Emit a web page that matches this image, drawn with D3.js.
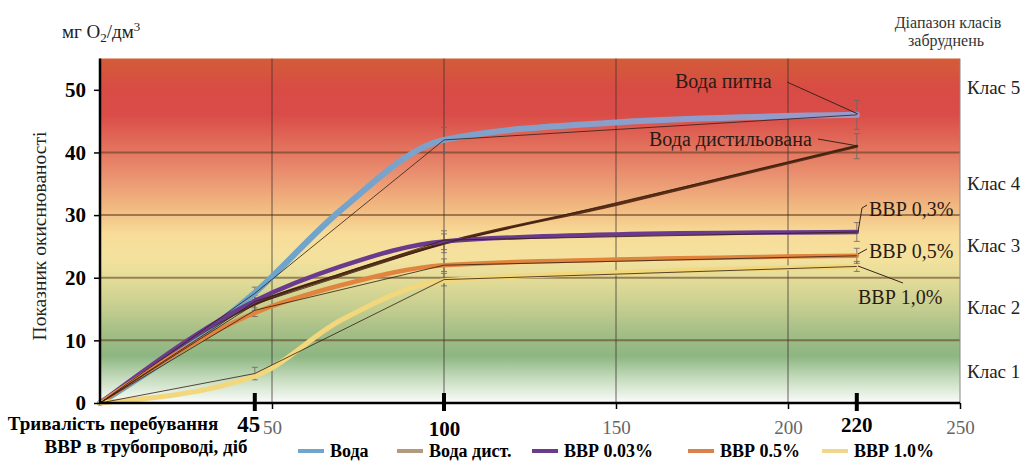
<!DOCTYPE html>
<html>
<head>
<meta charset="utf-8">
<script src="https://cdn.jsdelivr.net/npm/d3@7"></script>
<style>
  body { margin: 0; background: #fff; }
</style>
</head>
<body>
<div id="chart1"></div>
<script>
// measured points (thin lines, error bars)
var days = [0, 45, 100, 220];
var voda = [0, 17.5, 42, 46];
var vodaDist = [0, 15.8, 25.5, 41];
var vvr003 = [0, 16.2, 26, 27.3];
var vvr05 = [0, 14.8, 22, 23.5];
var vvr10 = [0, 4.7, 19.7, 21.8];
var errVoda = [0, 1, 2, 2.3];
var errDist = [0, 1, 1.5, 2];
var err003 = [0, 1, 1.5, 1.5];
var err05 = [0, 1, 1, 1.2];
var err10 = [0, 1, 1, 0.8];
// smoothed trend
var curveDays = [0, 45, 70, 100, 150, 220];
var vodaCurve = [0, 17.6, 30.8, 42, 44.8, 46];
var vodaDistCurve = [0, 15.8, 20.5, 25.5, 31.7, 41];
var vvr003Curve = [0, 16.3, 21.8, 25.8, 26.9, 27.3];
var vvr05Curve = [0, 14.4, 18.8, 22, 22.9, 23.5];
var vvr10Curve = [0, 4.3, 13.2, 19.5, 20.8, 21.8];
var seriesNames = ["Вода", "Вода дист.", "ВВР 0.03%", "ВВР 0.5%", "ВВР 1.0%"];
var yTicks = [0, 10, 20, 30, 40, 50];
var xTicks = [50, 100, 150, 200, 250];
var boldDays = [45, 100, 220];
var classNames = ["Клас 5", "Клас 4", "Клас 3", "Клас 2", "Клас 1"];
var classValues = [50.3, 35, 25, 15.2, 5];

var w = 1028;
var h = 461;
var serif = "'Liberation Serif', 'Times New Roman', serif";

var xScale = d3.scaleLinear()
    .domain([0, 250])
    .range([100, 960]);

var yScale = d3.scaleLinear()
    .domain([0, 55])
    .range([403, 58.5]);

var svg = d3.select("#chart1")
    .append("svg")
    .attr("width", w)
    .attr("height", h)
    .style("font-family", serif);

var defs = svg.append("defs");

// background bands of pollution classes
var bg = defs.append("linearGradient")
    .attr("id", "bgGrad")
    .attr("gradientUnits", "userSpaceOnUse")
    .attr("x1", 0).attr("x2", 0)
    .attr("y1", yScale(55)).attr("y2", yScale(0));
var bgStops = [[55, "#d35c38"], [50, "#d94b45"], [46, "#da4c48"], [41, "#e2705c"],
               [36, "#ea9472"], [31, "#f2bb82"], [27, "#f8dc98"], [23, "#f3e29e"],
               [19, "#dfda96"], [15, "#c3cd8f"], [11, "#a2bd86"], [7.5, "#8db682"],
               [4, "#c4dbbc"], [0, "#fbfcfa"]];
bgStops.forEach(function(s) {
  bg.append("stop")
    .attr("offset", (55 - s[0]) / 55)
    .attr("stop-color", s[1]);
});

var blueGrad = defs.append("linearGradient")
    .attr("id", "blueGrad")
    .attr("gradientUnits", "userSpaceOnUse")
    .attr("x1", xScale(0)).attr("x2", xScale(220))
    .attr("y1", 0).attr("y2", 0);
blueGrad.append("stop").attr("offset", 0).attr("stop-color", "#5ea7c8");
blueGrad.append("stop").attr("offset", 0.4).attr("stop-color", "#7aa3cc");
blueGrad.append("stop").attr("offset", 1).attr("stop-color", "#9a9acb");

svg.append("rect")
    .attr("x", xScale(0))
    .attr("y", yScale(55))
    .attr("width", xScale(250) - xScale(0))
    .attr("height", yScale(0) - yScale(55))
    .attr("fill", "url(#bgGrad)");

// grid
svg.selectAll(".hgrid")
    .data([10, 20, 30, 40])
    .enter()
    .append("line")
    .attr("x1", xScale(0))
    .attr("x2", xScale(250))
    .attr("y1", function(d) { return yScale(d); })
    .attr("y2", function(d) { return yScale(d); })
    .attr("stroke", "rgba(90,55,30,0.55)")
    .attr("stroke-width", 2);

svg.selectAll(".vgrid")
    .data([50, 100, 150, 200])
    .enter()
    .append("line")
    .attr("x1", function(d) { return xScale(d); })
    .attr("x2", function(d) { return xScale(d); })
    .attr("y1", yScale(55))
    .attr("y2", yScale(0))
    .attr("stroke", "rgba(60,50,50,0.75)")
    .attr("stroke-width", 1);

svg.append("line")
    .attr("x1", xScale(250)).attr("x2", xScale(250))
    .attr("y1", yScale(55)).attr("y2", yScale(0))
    .attr("stroke", "#888")
    .attr("stroke-width", 1);

// series
var series = [
  {vals: voda, curve: vodaCurve, err: errVoda, color: "url(#blueGrad)", width: 6},
  {vals: vodaDist, curve: vodaDistCurve, err: errDist, color: "#5a2d14", width: 3},
  {vals: vvr003, curve: vvr003Curve, err: err003, color: "#6b3a8c", width: 4.5},
  {vals: vvr05, curve: vvr05Curve, err: err05, color: "#e0843e", width: 4.5},
  {vals: vvr10, curve: vvr10Curve, err: err10, color: "#f2d77c", width: 5}
];

var smooth = d3.line()
    .x(function(d, i) { return xScale(curveDays[i]); })
    .y(function(d) { return yScale(d); })
    .curve(d3.curveMonotoneX);

var straight = d3.line()
    .x(function(d, i) { return xScale(days[i]); })
    .y(function(d) { return yScale(d); });

// error bars
series.forEach(function(s) {
  for (var i = 1; i < days.length; i++) {
    var cx = xScale(days[i]);
    var g = svg.append("g")
        .attr("stroke", "rgba(110,100,100,0.8)")
        .attr("stroke-width", 1);
    g.append("line")
        .attr("x1", cx).attr("x2", cx)
        .attr("y1", yScale(s.vals[i] - s.err[i]))
        .attr("y2", yScale(s.vals[i] + s.err[i]));
    g.append("line")
        .attr("x1", cx - 3).attr("x2", cx + 3)
        .attr("y1", yScale(s.vals[i] - s.err[i]))
        .attr("y2", yScale(s.vals[i] - s.err[i]));
    g.append("line")
        .attr("x1", cx - 3).attr("x2", cx + 3)
        .attr("y1", yScale(s.vals[i] + s.err[i]))
        .attr("y2", yScale(s.vals[i] + s.err[i]));
  }
});

series.forEach(function(s) {
  svg.append("path")
      .datum(s.curve)
      .attr("d", smooth)
      .attr("fill", "none")
      .attr("stroke", s.color)
      .attr("stroke-width", s.width)
      .attr("stroke-linecap", "round");
});

// thin lines through measured points
series.forEach(function(s) {
  svg.append("path")
      .datum(s.vals)
      .attr("d", straight)
      .attr("fill", "none")
      .attr("stroke", "rgba(50,30,20,0.8)")
      .attr("stroke-width", 1);
});

// axes
var yAxis = svg.append("g")
    .attr("transform", "translate(" + xScale(0) + ",0)")
    .call(d3.axisLeft(yScale).tickValues(yTicks).tickSize(6).tickPadding(8));
yAxis.select(".domain").remove();
yAxis.selectAll("line").attr("stroke", "#000").attr("stroke-width", 1.5);
yAxis.selectAll("text")
    .attr("font-size", 21)
    .attr("font-weight", "bold")
    .attr("fill", "#000");

var xAxis = svg.append("g")
    .attr("transform", "translate(0," + yScale(0) + ")")
    .call(d3.axisBottom(xScale).tickValues(xTicks).tickSize(6).tickPadding(12));
xAxis.select(".domain").remove();
xAxis.selectAll("line").attr("stroke", "#000").attr("stroke-width", 1.5);
xAxis.selectAll("text")
    .attr("font-size", function(d) { return d === 100 ? 21 : 19; })
    .attr("fill", function(d) { return d === 100 ? "#000" : "#666"; })
    .attr("font-weight", function(d) { return d === 100 ? "bold" : "normal"; });

svg.append("line")
    .attr("x1", xScale(0)).attr("x2", xScale(0))
    .attr("y1", yScale(55)).attr("y2", yScale(0))
    .attr("stroke", "#000").attr("stroke-width", 2.5);
svg.append("line")
    .attr("x1", xScale(0) - 1).attr("x2", xScale(250))
    .attr("y1", yScale(0)).attr("y2", yScale(0))
    .attr("stroke", "#000").attr("stroke-width", 2.5);

// bold marks for measurement days
svg.selectAll(".dayMark")
    .data(boldDays)
    .enter()
    .append("line")
    .attr("x1", function(d) { return xScale(d); })
    .attr("x2", function(d) { return xScale(d); })
    .attr("y1", yScale(0) - 10)
    .attr("y2", yScale(0) + 8)
    .attr("stroke", "#000")
    .attr("stroke-width", 4);

svg.selectAll(".dayLabel")
    .data([45, 220])
    .enter()
    .append("text")
    .attr("x", function(d) { return d === 45 ? xScale(d) - 6 : xScale(d); })
    .attr("y", 432)
    .attr("text-anchor", "middle")
    .attr("font-size", function(d) { return d === 45 ? 23 : 21; })
    .attr("font-weight", "bold")
    .text(function(d) { return d; });

// axis titles
svg.append("text")
    .attr("x", 113).attr("y", 430)
    .attr("text-anchor", "middle")
    .attr("font-size", 19).attr("font-weight", "bold")
    .text("Тривалість перебування");
svg.append("text")
    .attr("x", 146).attr("y", 453)
    .attr("text-anchor", "middle")
    .attr("font-size", 19).attr("font-weight", "bold")
    .text("ВВР в трубопроводі, діб");

svg.append("text")
    .attr("transform", "rotate(-90)")
    .attr("x", -236).attr("y", 46)
    .attr("text-anchor", "middle")
    .attr("font-size", 19.5)
    .attr("fill", "#222")
    .text("Показник окиснюваності");

var unit = svg.append("text")
    .attr("x", 62).attr("y", 38)
    .attr("font-size", 19)
    .attr("fill", "#222");
unit.append("tspan").text("мг О");
unit.append("tspan").attr("font-size", 13).attr("dy", 4).text("2");
unit.append("tspan").attr("dy", -4).text("/дм");
unit.append("tspan").attr("font-size", 13).attr("dy", -7).text("3");

// class labels on right
svg.append("text")
    .attr("x", 948).attr("y", 28)
    .attr("text-anchor", "middle")
    .attr("font-size", 16).attr("fill", "#333")
    .text("Діапазон класів");
svg.append("text")
    .attr("x", 946).attr("y", 46)
    .attr("text-anchor", "middle")
    .attr("font-size", 16).attr("fill", "#333")
    .text("забруднень");

svg.selectAll(".classLabel")
    .data(classNames)
    .enter()
    .append("text")
    .attr("x", 967)
    .attr("y", function(d, i) { return yScale(classValues[i]) + 6; })
    .attr("font-size", 19)
    .attr("fill", "#222")
    .text(function(d) { return d; });

// callouts at day 220
var callouts = [
  {text: "Вода питна", tx: 675, ty: 88, pts: [[787, 82], [858, 114]]},
  {text: "Вода дистильована", tx: 649, ty: 146, pts: [[818, 139], [858, 146]]},
  {text: "ВВР 0,3%", tx: 869, ty: 216, pts: [[858, 232], [862, 208], [867, 205]]},
  {text: "ВВР 0,5%", tx: 869, ty: 258, pts: [[858, 254], [867, 249]]},
  {text: "ВВР 1,0%", tx: 858, ty: 304, pts: [[858, 266], [903, 283]]}
];
callouts.forEach(function(c) {
  svg.append("text")
      .attr("x", c.tx).attr("y", c.ty)
      .attr("font-size", 20)
      .attr("fill", "#2a1a14")
      .text(c.text);
  svg.append("path")
      .attr("d", d3.line()(c.pts))
      .attr("fill", "none")
      .attr("stroke", "#3a2418")
      .attr("stroke-width", 1);
});

// legend
var legendColors = ["#6fa6cc", "#b39a7c", "#6b3a8c", "#d9824a", "#f0d88a"];
var legendX = [298, 397, 532, 688, 822];
var legend = svg.selectAll(".legend")
    .data(seriesNames)
    .enter()
    .append("g")
    .attr("transform", function(d, i) { return "translate(" + legendX[i] + ",451)"; });
legend.append("line")
    .attr("x1", 0).attr("x2", 26)
    .attr("stroke", function(d, i) { return legendColors[i]; })
    .attr("stroke-width", 4);
legend.append("text")
    .attr("x", 32).attr("y", 6)
    .attr("font-size", 18).attr("font-weight", "bold")
    .text(function(d) { return d; });

// all texts in serif
svg.selectAll("text").style("font-family", serif);
</script>
</body>
</html>
